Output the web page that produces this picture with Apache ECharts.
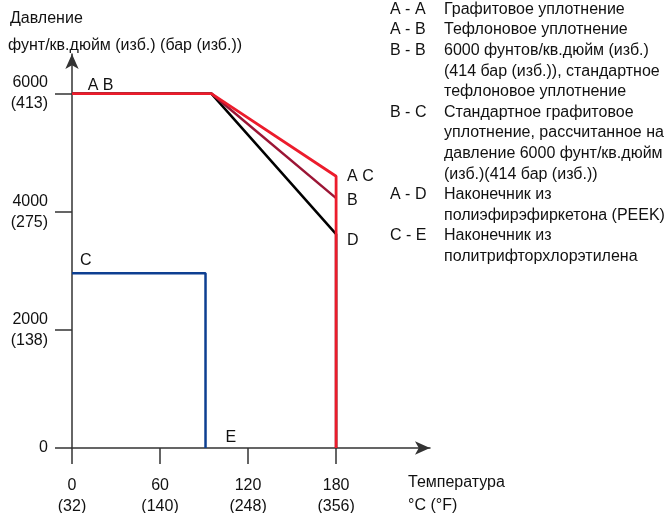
<!DOCTYPE html>
<html>
<head>
<meta charset="utf-8">
<script src="https://cdn.jsdelivr.net/npm/echarts@6/dist/echarts.min.js"></script>
<style>html,body{margin:0;padding:0;background:#fff}#c{width:670px;height:513px}</style>
</head>
<body>
<div id="c"></div>
<script>
// ---- data ----
var xTickValues = [0, 60, 120, 180];
var xTickLabels = ['0\n(32)', '60\n(140)', '120\n(248)', '180\n(356)'];
var yTickValues = [0, 2000, 4000, 6000];
var yTickLabels = ['0', '2000\n(138)', '4000\n(275)', '6000\n(413)'];
var xMax = 244;
var yMax = 6670;

var curveD = [[0, 6000], [95, 6000], [180, 3620], [180, 0]];   // A - D (black)
var curveB = [[95, 6000], [180, 4230]];                         // A - B (dark red)
var curveAC = [[0, 6000], [95, 6000], [180, 4600], [180, 0]];  // A - A / B - C (red)
var curveCE = [[0, 2960], [91, 2960], [91, 0]];                 // C - E (blue)

var annotationText = ['A B', 'A C', 'B', 'D', 'C', 'E'];
var annotationX = [10, 180, 180, 180, 0, 91];
var annotationY = [6000, 4600, 4230, 3620, 2960, 0];

var yAxisTitle = ['Давление', 'фунт/кв.дюйм (изб.) (бар (изб.))'];
var xAxisTitle = ['Температура', '°C (°F)'];

var legendKeys = ['A - A', 'A - B', 'B - B', '', '', 'B - C', '', '', '', 'A - D', '', 'C - E', ''];
var legendDescr = [
  'Графитовое уплотнение',
  'Тефлоновое уплотнение',
  '6000 фунтов/кв.дюйм (изб.)',
  '(414 бар (изб.)), стандартное',
  'тефлоновое уплотнение',
  'Стандартное графитовое',
  'уплотнение, рассчитанное на',
  'давление 6000 фунт/кв.дюйм',
  '(изб.)(414 бар (изб.))',
  'Наконечник из',
  'полиэфирэфиркетона (PEEK)',
  'Наконечник из',
  'политрифторхлорэтилена'
];

// ---- styles ----
var FONT = "'Liberation Sans', Arial, sans-serif";
var FS = 16;
var TXT = '#111';
var AXIS = '#333';
var annotationOffset = [[1, -8], [11, 0], [11, 2], [11, 6], [8, -13], [20, -10]];

var annData = annotationText.map(function (t, i) {
  return {
    value: [annotationX[i], annotationY[i]],
    label: { formatter: t, offset: annotationOffset[i] }
  };
});

var xLabelMap = {}; xTickValues.forEach(function (v, i) { xLabelMap[v] = xTickLabels[i]; });
var yLabelMap = {}; yTickValues.forEach(function (v, i) { yLabelMap[v] = yTickLabels[i]; });

var chart = echarts.init(document.getElementById('c'), null, { renderer: 'canvas' });
chart.setOption({
  animation: false,
  backgroundColor: '#fff',
  grid: { left: 72, right: 240, top: 54, bottom: 65, containLabel: false, outerBoundsMode: 'none' },
  xAxis: {
    type: 'value', min: 0, max: xMax,
    splitLine: { show: false },
    axisLine: { show: true, onZero: false, lineStyle: { color: AXIS, width: 1.5 },
      symbol: ['none', 'arrow'], symbolSize: [10, 15] },
    axisTick: { show: true, length: 16, lineStyle: { color: AXIS, width: 1.5 }, customValues: xTickValues },
    axisLabel: { customValues: xTickValues, margin: 27, color: TXT, fontFamily: FONT, fontSize: FS,
      lineHeight: 21, align: 'center', verticalAlign: 'top',
      formatter: function (v) { return xLabelMap[v] || ''; } }
  },
  yAxis: {
    type: 'value', min: 0, max: yMax,
    splitLine: { show: false },
    axisLine: { show: true, onZero: false, lineStyle: { color: AXIS, width: 1.5 },
      symbol: ['none', 'arrow'], symbolSize: [10, 15] },
    axisTick: { show: true, length: 17, lineStyle: { color: AXIS, width: 1.5 }, customValues: yTickValues },
    axisLabel: { customValues: yTickValues, margin: 24, color: TXT, fontFamily: FONT, fontSize: FS,
      lineHeight: 21, align: 'right',
      formatter: function (v) { return yLabelMap[v] || ''; } }
  },
  series: [
    { type: 'line', data: curveD, symbol: 'none', lineStyle: { color: '#000', width: 2.5 }, z: 2 },
    { type: 'line', data: curveB, symbol: 'none', lineStyle: { color: '#9b1535', width: 2.5 }, z: 3 },
    { type: 'line', data: curveAC, symbol: 'none', lineStyle: { color: '#ec1c2c', width: 2.8 }, z: 4 },
    { type: 'line', data: curveCE, symbol: 'none', lineStyle: { color: '#0d3f91', width: 2.5 }, z: 4 },
    { type: 'scatter', data: annData, symbolSize: 0, silent: true, z: 5,
      itemStyle: { opacity: 1 },
      label: { show: true, position: 'right', distance: 0, color: TXT, opacity: 1, fontFamily: FONT, fontSize: FS } }
  ],
  graphic: [
    { type: 'text', left: 10, top: 11, style: { text: yAxisTitle[0], font: FS + 'px ' + FONT, fill: TXT } },
    { type: 'text', left: 8, top: 38, style: { text: yAxisTitle[1], font: FS + 'px ' + FONT, fill: TXT } },
    { type: 'text', left: 408, top: 475, style: { text: xAxisTitle[0], font: FS + 'px ' + FONT, fill: TXT } },
    { type: 'text', left: 408, top: 498, style: { text: xAxisTitle[1], font: FS + 'px ' + FONT, fill: TXT } },
    { type: 'text', left: 390, top: -1, style: { text: legendKeys.join('\n'), font: FS + 'px ' + FONT, fill: TXT, lineHeight: 20.6 } },
    { type: 'text', left: 444, top: -1, style: { text: legendDescr.join('\n'), font: FS + 'px ' + FONT, fill: TXT, lineHeight: 20.6 } }
  ]
});
</script>
</body>
</html>
